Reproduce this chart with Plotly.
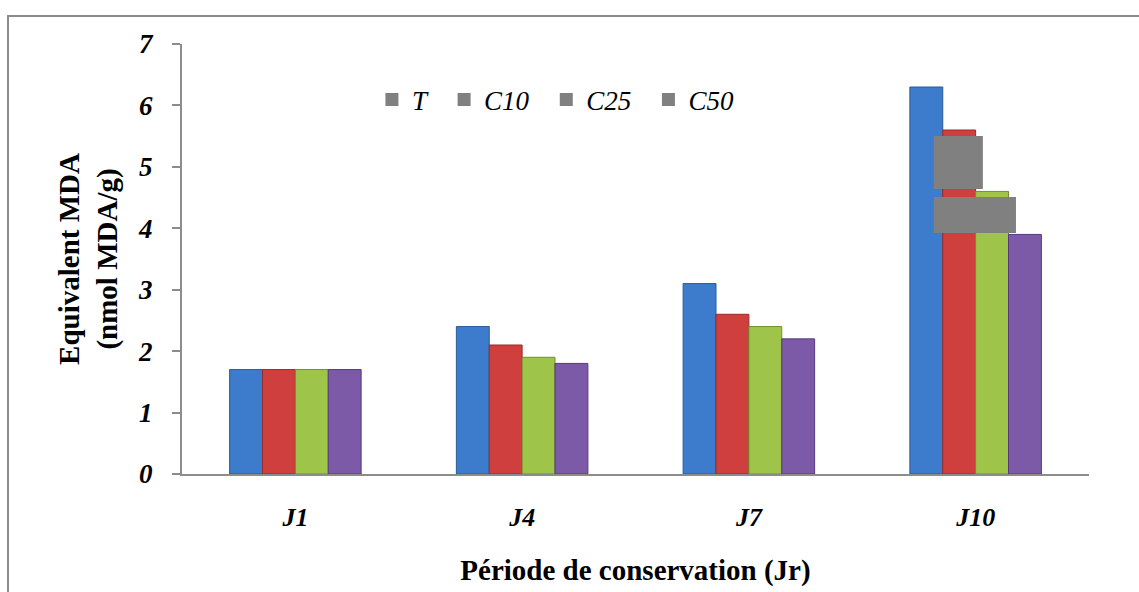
import plotly.graph_objects as go

categories = ["J1", "J4", "J7", "J10"]
series_names = ["T", "C10", "C25", "C50"]
values_T = [1.7, 2.4, 3.1, 6.3]
values_C10 = [1.7, 2.1, 2.6, 5.6]
values_C25 = [1.7, 1.9, 2.4, 4.6]
values_C50 = [1.7, 1.8, 2.2, 3.9]
y_ticks = [0, 1, 2, 3, 4, 5, 6, 7]

series_values = [values_T, values_C10, values_C25, values_C50]
colors = ["#3d7ccc", "#cf3f3d", "#9ec549", "#7d5aa8"]
edges = ["#2a5a9a", "#9a2a28", "#6f8f2c", "#553a7c"]

SERIF = "Liberation Serif"

fig = go.Figure()
for name, vals, c, e in zip(series_names, series_values, colors, edges):
    fig.add_trace(go.Bar(x=categories, y=vals, name=name, marker=dict(color=c, line=dict(color=e, width=1)),
                         showlegend=False))

# legend entries drawn as grey squares (as in the reference)
for name in series_names:
    fig.add_trace(go.Scatter(x=[None], y=[None], mode="markers", name=name + "\u00a0\u2009",
                             marker=dict(symbol="square", size=13, color="#808080")))

W, H = 1139, 592
L, R, T, B = 182, 50, 44, 118

fig.update_layout(
    width=W, height=H,
    margin=dict(l=L, r=R, t=T, b=B),
    paper_bgcolor="white", plot_bgcolor="white",
    barmode="group", bargap=0.42, bargroupgap=0,
    font=dict(family=SERIF, color="black"),
    legend=dict(orientation="h", x=0.2094, xanchor="left", y=0.87, yanchor="middle",
                font=dict(family=SERIF, size=27, style="italic"),
                bgcolor="rgba(0,0,0,0)", itemwidth=30, tracegroupgap=0),
    xaxis=dict(
        showline=True, linecolor="#8c8c8c", linewidth=2, ticks="",
        tickfont=dict(family=SERIF, size=26, weight="bold", style="italic"),
        ticklabelstandoff=19,
        title=dict(text="Période de conservation (Jr)", font=dict(family=SERIF, size=29, weight="bold"),
                   standoff=28),
        showgrid=False, zeroline=False,
    ),
    yaxis=dict(
        range=[0, 7], tickvals=y_ticks, showline=True, linecolor="#8c8c8c", linewidth=2,
        ticks="outside", ticklen=8, tickcolor="#8c8c8c", tickwidth=2,
        tickfont=dict(family=SERIF, size=27, weight="bold", style="italic"),
        ticklabelstandoff=14,
        title=dict(text="Equivalent MDA<br>(nmol MDA/g)", font=dict(family=SERIF, size=29, weight="bold"),
                   standoff=12),
        showgrid=False, zeroline=False,
    ),
    shapes=[
        # outer frame (left and top edges visible)
        dict(type="rect", xref="paper", yref="paper",
             x0=(8 - L) / (W - L - R), x1=1.08, y0=-0.35, y1=(H - B - 16) / (H - T - B),
             line=dict(color="#8c8c8c", width=2), fillcolor="rgba(0,0,0,0)", layer="below"),
        # grey artifact boxes over the J10 group
        dict(type="rect", xref="paper", yref="paper", x0=0.829, x1=0.883, y0=0.663, y1=0.786,
             line=dict(width=0), fillcolor="#808080", layer="above"),
        dict(type="rect", xref="paper", yref="paper", x0=0.829, x1=0.9195, y0=0.5605, y1=0.644,
             line=dict(width=0), fillcolor="#808080", layer="above"),
    ],
)

fig.write_html("out.html")
